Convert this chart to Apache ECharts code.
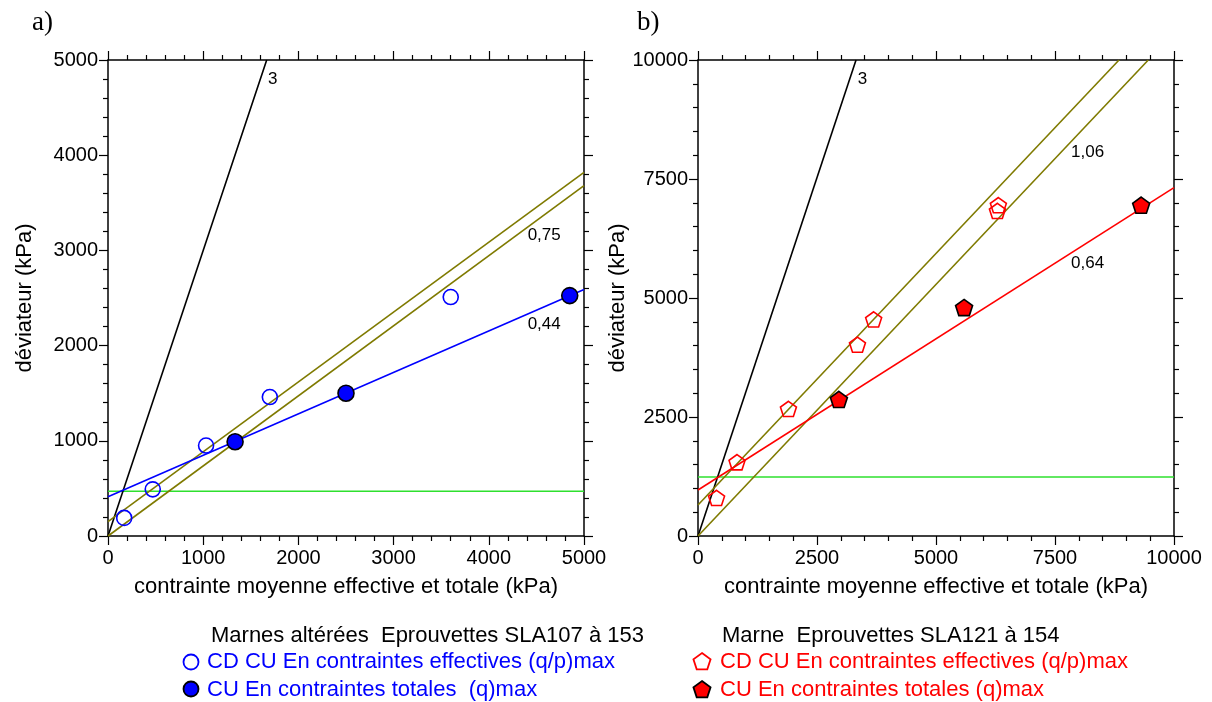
<!DOCTYPE html>
<html lang="fr">
<head>
    <meta charset="UTF-8">
    <title>Marnes - déviateur</title>
    <style>
        html, body { margin: 0; padding: 0; background: #fff; }
    </style>
</head>
<body>
    <div id="main" style="width: 1212px; height: 702px"></div>
    <script src="https://cdn.jsdelivr.net/npm/echarts@6/dist/echarts.min.js"></script>
    <script type="text/javascript">
        // points mesurés [p, q] en kPa
        var effA = [[170, 190], [470, 490], [1030, 950], [1700, 1460], [3600, 2510]];
        var totA = [[1335, 990], [2500, 1500], [4850, 2525]];
        var effB = [[390, 800], [820, 1550], [1900, 2670], [3350, 4020], [3690, 4550], [6310, 6950], [6290, 6830]];
        var totB = [[2960, 2870], [5590, 4800], [9310, 6950]];

        // droites (extrémités)
        var slope3A = [[0, 0], [1667, 5000]];
        var oliveUpA = [[0, 150], [5000, 3820]];
        var oliveLowA = [[0, 0], [5000, 3680]];
        var fitA = [[0, 413], [5000, 2590]];
        var greenA = [[0, 470], [5000, 470]];

        var slope3B = [[0, 0], [3320, 10000]];
        var oliveUpB = [[0, 650], [8845, 10000]];
        var oliveLowB = [[0, 0], [9460, 10000]];
        var fitB = [[0, 966], [10000, 7320]];
        var greenB = [[0, 1240], [10000, 1240]];

        // étiquettes des pentes [x, y, texte]
        var notesA = [[1680, 4800, '3'], [4408, 3162, '0,75'], [4408, 2227, '0,44']];
        var notesB = [[3355, 9600, '3'], [7836, 8052, '1,06'], [7836, 5729, '0,64']];

        var legendA = ['CD CU En contraintes effectives (q/p)max', 'CU En contraintes totales  (q)max'];
        var legendB = ['CD CU En contraintes effectives (q/p)max', 'CU En contraintes totales (q)max'];

        var FONT = 'Liberation Sans';
        var OLIVE = '#7f7a00';
        var GREEN = '#2ee02e';
        var PENT = 'path://M0,-10 L9.51,-3.09 L5.88,8.09 L-5.88,8.09 L-9.51,-3.09 Z';

        var myChart = echarts.init(document.getElementById('main'));

        function plain(v) { return String(v); }

        function xAx(grid, max, step, pos, show) {
            return {
                type: 'value', gridIndex: grid, position: pos, min: 0, max: max, interval: step,
                axisLine: { show: true, onZero: false, lineStyle: { color: '#000', width: 1.5 } },
                axisTick: { show: true, length: 9, lineStyle: { color: '#000', width: 1.2 } },
                minorTick: { show: true, splitNumber: 5, length: 5, lineStyle: { color: '#000', width: 1.2 } },
                splitLine: { show: false },
                axisLabel: { show: show, margin: 12, fontFamily: FONT, fontSize: 20, color: '#000', formatter: plain },
                name: show ? 'contrainte moyenne effective et totale (kPa)' : '',
                nameLocation: 'middle', nameGap: 40,
                nameTextStyle: { fontFamily: FONT, fontSize: 22, color: '#000' }
            };
        }
        function yAx(grid, max, step, pos, show, gap) {
            return {
                type: 'value', gridIndex: grid, position: pos, min: 0, max: max, interval: step,
                axisLine: { show: true, onZero: false, lineStyle: { color: '#000', width: 1.5 } },
                axisTick: { show: true, length: 9, lineStyle: { color: '#000', width: 1.2 } },
                minorTick: { show: true, splitNumber: 5, length: 5, lineStyle: { color: '#000', width: 1.2 } },
                splitLine: { show: false },
                axisLabel: { show: show, margin: 10, fontFamily: FONT, fontSize: 20, color: '#000', formatter: plain },
                name: show ? 'déviateur (kPa)' : '',
                nameLocation: 'middle', nameGap: gap,
                nameTextStyle: { fontFamily: FONT, fontSize: 22, color: '#000' }
            };
        }
        function seg(data, color, xi) {
            return {
                type: 'line', xAxisIndex: xi, yAxisIndex: xi, data: data, symbol: 'none', silent: true,
                lineStyle: { color: color, width: 1.6 }, z: 2
            };
        }
        function notes(data, xi) {
            return {
                type: 'scatter', xAxisIndex: xi, yAxisIndex: xi, data: data, symbolSize: 0, silent: true,
                itemStyle: { opacity: 1 },
                label: {
                    show: true, position: 'right', distance: 0, fontFamily: FONT, fontSize: 17, color: '#000',
                    formatter: function (p) { return p.value[2]; }
                }
            };
        }
        // pentagone pour la légende
        function pentPts(cx, cy, r) {
            var pts = [];
            for (var i = 0; i < 5; i++) {
                var a = -Math.PI / 2 + i * 2 * Math.PI / 5;
                pts.push([cx + r * Math.cos(a), cy + r * Math.sin(a) + 1]);
            }
            return pts;
        }
        function legText(txt, x, y, color) {
            return { type: 'text', style: { text: txt, x: x, y: y, fill: color, font: '22px "Liberation Sans"', verticalAlign: 'middle' } };
        }

        var option = {
            animation: false,
            title: [
                { text: 'a)', left: 27, top: 4, textStyle: { fontFamily: 'Liberation Serif', fontSize: 27, fontWeight: 'normal', color: '#000' } },
                { text: 'b)', left: 632, top: 4, textStyle: { fontFamily: 'Liberation Serif', fontSize: 27, fontWeight: 'normal', color: '#000' } },
                { text: 'Marnes altérées  Eprouvettes SLA107 à 153', left: 206, top: 620, textStyle: { fontFamily: FONT, fontSize: 22, fontWeight: 'normal', color: '#000' } },
                { text: 'Marne  Eprouvettes SLA121 à 154', left: 717, top: 620, textStyle: { fontFamily: FONT, fontSize: 22, fontWeight: 'normal', color: '#000' } }
            ],
            graphic: [
                { type: 'circle', shape: { cx: 191, cy: 662, r: 7.5 }, style: { fill: '#fff', stroke: '#0000ff', lineWidth: 1.8 } },
                { type: 'circle', shape: { cx: 191, cy: 689, r: 7.5 }, style: { fill: '#0000ff', stroke: '#000', lineWidth: 1.8 } },
                legText(legendA[0], 207, 662, '#0000ff'),
                legText(legendA[1], 207, 690, '#0000ff'),
                { type: 'polygon', shape: { points: pentPts(702, 661, 9) }, style: { fill: '#fff', stroke: '#ff0000', lineWidth: 1.8 } },
                { type: 'polygon', shape: { points: pentPts(702, 689, 9) }, style: { fill: '#ff0000', stroke: '#000', lineWidth: 1.8 } },
                legText(legendB[0], 720, 662, '#ff0000'),
                legText(legendB[1], 720, 690, '#ff0000')
            ],
            grid: [
                { left: 108, top: 60, width: 476, height: 476 },
                { left: 698, top: 60, width: 476, height: 476 }
            ],
            xAxis: [
                xAx(0, 5000, 1000, 'bottom', true),
                xAx(0, 5000, 1000, 'top', false),
                xAx(1, 10000, 2500, 'bottom', true),
                xAx(1, 10000, 2500, 'top', false)
            ],
            yAxis: [
                yAx(0, 5000, 1000, 'left', true, 72),
                yAx(0, 5000, 1000, 'right', false, 0),
                yAx(1, 10000, 2500, 'left', true, 59),
                yAx(1, 10000, 2500, 'right', false, 0)
            ],
            series: [
                seg(greenA, GREEN, 0),
                seg(slope3A, '#000', 0),
                seg(oliveUpA, OLIVE, 0),
                seg(oliveLowA, OLIVE, 0),
                seg(fitA, '#0000ff', 0),
                notes(notesA, 0),
                {
                    name: legendA[0], type: 'scatter', xAxisIndex: 0, yAxisIndex: 0,
                    data: effA, symbol: 'circle', symbolSize: 15, z: 5,
                    itemStyle: { opacity: 1, color: 'rgba(255,255,255,0)', borderColor: '#0000ff', borderWidth: 1.6 }
                },
                {
                    name: legendA[1], type: 'scatter', xAxisIndex: 0, yAxisIndex: 0,
                    data: totA, symbol: 'circle', symbolSize: 16, z: 5,
                    itemStyle: { opacity: 1, color: '#0000ff', borderColor: '#000', borderWidth: 1.6 }
                },
                seg(greenB, GREEN, 2),
                seg(slope3B, '#000', 2),
                seg(oliveUpB, OLIVE, 2),
                seg(oliveLowB, OLIVE, 2),
                seg(fitB, '#ff0000', 2),
                notes(notesB, 2),
                {
                    name: legendB[0] + ' ', type: 'scatter', xAxisIndex: 2, yAxisIndex: 2,
                    data: effB, symbol: PENT, symbolKeepAspect: true, symbolSize: 16, z: 5,
                    itemStyle: { opacity: 1, color: 'rgba(255,255,255,0)', borderColor: '#ff0000', borderWidth: 1.6 }
                },
                {
                    name: legendB[1], type: 'scatter', xAxisIndex: 2, yAxisIndex: 2,
                    data: totB, symbol: PENT, symbolKeepAspect: true, symbolSize: 17, z: 5,
                    itemStyle: { opacity: 1, color: '#ff0000', borderColor: '#000', borderWidth: 1.6 }
                }
            ]
        };
        myChart.setOption(option);
    </script>
</body>
</html>
